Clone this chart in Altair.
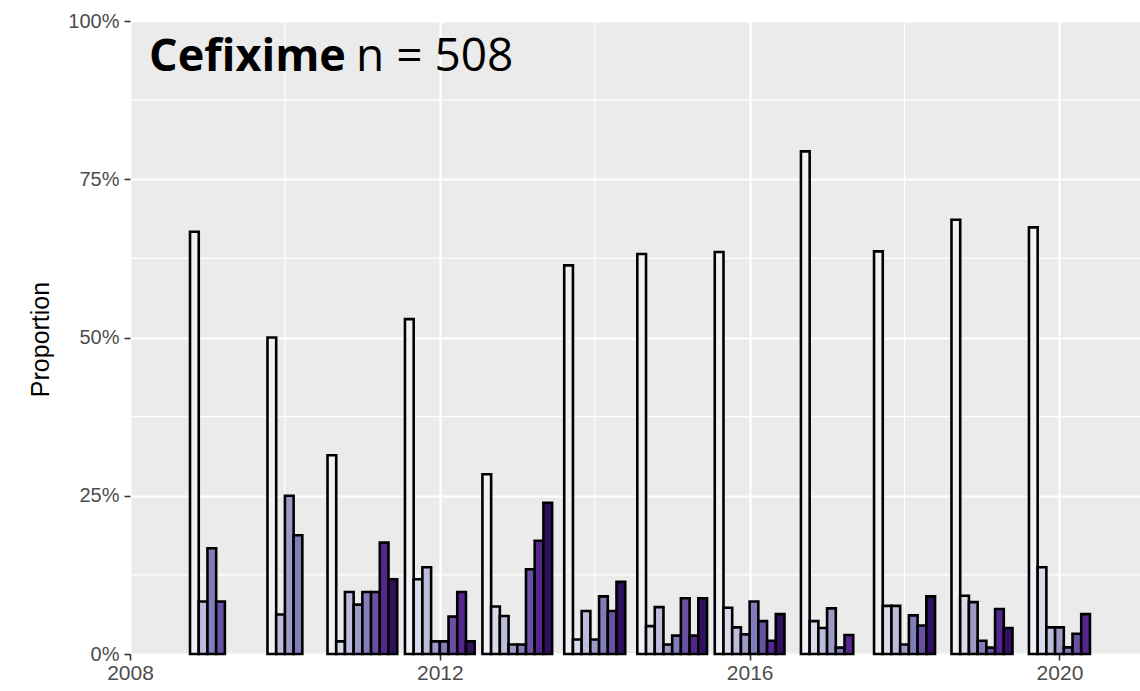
import altair as alt
import pandas as pd

# Surveillance years and the ordered MIC levels (lowest to highest)
years = [2009, 2010, 2011, 2012, 2013, 2014, 2015, 2016, 2017, 2018, 2019, 2020]
levels = ["L1", "L2", "L3", "L4", "L5", "L6", "L7", "L8"]

# Percentage of isolates at each level per year (None = level not observed that year)
lvl1 = [66.7, 50.0, 31.4, 52.9, 28.4, 61.4, 63.2, 63.5, 79.4, 63.6, 68.6, 67.4]
lvl2 = [None, None, 2.0, 11.8, 7.5, 2.3, 4.4, 7.3, 5.2, 7.6, 9.2, 13.7]
lvl3 = [8.3, 6.25, 9.8, 13.7, 6.0, 6.8, 7.4, 4.2, 4.1, 7.6, None, 4.2]
lvl4 = [None, 25.0, 7.8, 2.0, 1.5, 2.3, 1.5, 3.1, 7.2, 1.5, 8.2, 4.2]
lvl5 = [16.7, 18.75, 9.8, 2.0, 1.5, 9.1, 2.9, 8.3, 1.0, 6.1, 2.1, 1.05]
lvl6 = [8.3, None, 9.8, 5.9, 13.4, 6.8, 8.8, 5.2, None, 4.5, 1.0, 3.2]
lvl7 = [None, None, 17.6, 9.8, 17.9, None, 2.9, 2.1, 3.0, None, 7.1, 6.3]
lvl8 = [None, None, 11.8, 2.0, 23.9, 11.4, 8.8, 6.3, None, 9.1, 4.1, None]

fill_colors = ["#F2F0F7", "#DADAEB", "#BCBDDC", "#9E9AC8",
               "#807DBA", "#6A51A3", "#54278F", "#311060"]

drug_name = "Cefixime"
sample_note = "n = 508"

x_major = [2008, 2012, 2016, 2020]
x_minor = [2010, 2014, 2018]
y_major = [0, 0.25, 0.5, 0.75, 1.0]
y_minor = [0.125, 0.375, 0.625, 0.875]

# Long table: one row per observed (year, level)
rows = []
for i, (lvl, series) in enumerate(zip(levels, [lvl1, lvl2, lvl3, lvl4, lvl5, lvl6, lvl7, lvl8])):
    for yr, pct in zip(years, series):
        if pct is not None:
            rows.append({"year": yr, "level": lvl, "order": i, "pct": pct})
df = pd.DataFrame(rows)

BAR_W = 0.1125  # width of one dodged bar, in years

x_scale = alt.Scale(domain=[2008, 2021.04], nice=False, zero=False)
y_scale = alt.Scale(domain=[0, 1], nice=False)

FONT = "Liberation Sans"
x_axis = alt.Axis(values=x_major, format="d", title=None, grid=True,
                  gridColor="white", gridWidth=2.2, domain=False,
                  tickColor="#333333", tickWidth=1.6, tickSize=6,
                  labelFont=FONT, labelFontSize=21, labelColor="#4D4D4D",
                  labelPadding=2, labelFlush=False)
y_axis = alt.Axis(values=y_major, format=".0%", title="Proportion", grid=True,
                  gridColor="white", gridWidth=2.2, domain=False,
                  tickColor="#333333", tickWidth=1.6, tickSize=6,
                  labelFont=FONT, labelFontSize=20, labelColor="#4D4D4D",
                  labelPadding=5, labelFlush=False, titleFont=FONT, titleFontSize=25,
                  titleFontWeight="normal", titleColor="black",
                  titleX=-82, titleY=318, titleBaseline="alphabetic")

minor_h = alt.Chart(pd.DataFrame({"v": y_minor})).mark_rule(
    color="white", strokeWidth=1.1
).encode(y=alt.Y("v:Q", scale=y_scale, axis=y_axis))

minor_v = alt.Chart(pd.DataFrame({"v": x_minor})).mark_rule(
    color="white", strokeWidth=1.1
).encode(x=alt.X("v:Q", scale=x_scale, axis=x_axis))

# Dodged bars: each year's observed levels packed side by side, centred on the year
bars = alt.Chart(df).transform_window(
    slot="row_number()", groupby=["year"], sort=[alt.SortField("order")]
).transform_joinaggregate(
    nbars="count()", groupby=["year"]
).transform_calculate(
    x0=f"datum.year - datum.nbars * {BAR_W} / 2 + (datum.slot - 1) * {BAR_W}"
).transform_calculate(
    x1=f"datum.x0 + {BAR_W}",
    prop="datum.pct / 100"
).mark_rect(stroke="black", strokeWidth=2.6).encode(
    x=alt.X("x0:Q", scale=x_scale, axis=x_axis),
    x2="x1:Q",
    y=alt.Y("prop:Q", scale=y_scale, axis=y_axis),
    y2=alt.datum(0),
    color=alt.Color("level:N", scale=alt.Scale(domain=levels, range=fill_colors),
                    legend=None),
)

label_bold = alt.Chart(pd.DataFrame({"t": [drug_name]})).mark_text(
    font="Open Sans", fontSize=45, fontWeight="bold", align="left",
    baseline="alphabetic", color="black"
).encode(text="t:N", x=alt.value(19), y=alt.value(50))

label_plain = alt.Chart(pd.DataFrame({"t": [sample_note]})).mark_text(
    font="Open Sans", fontSize=46, fontWeight="normal", align="left",
    baseline="alphabetic", color="black"
).encode(text="t:N", x=alt.value(226), y=alt.value(50))

chart = alt.layer(minor_h, minor_v, bars, label_bold, label_plain).properties(
    width=1010, height=633,
    autosize=alt.AutoSizeParams(type="none"),
    padding={"left": 130, "top": 21, "right": 0, "bottom": 37},
    background="white",
).configure_view(fill="#EBEBEB", strokeWidth=0)

chart.save("out.html", embed_options={"renderer": "svg", "actions": False})
